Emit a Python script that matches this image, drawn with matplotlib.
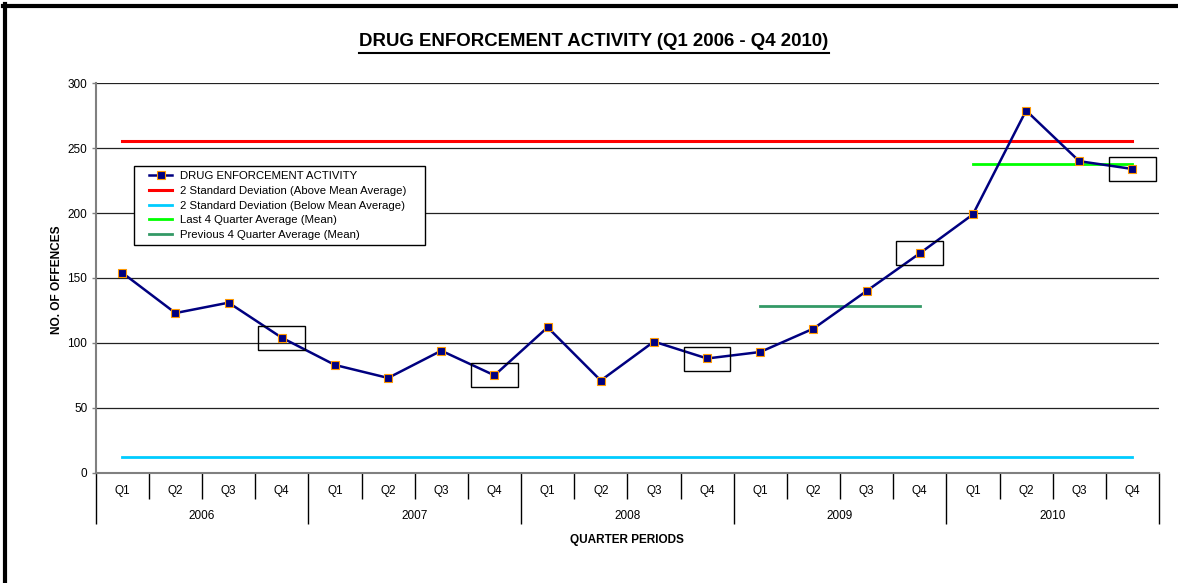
# Drug enforcement activity by quarter, Q1 2006 - Q4 2010

import matplotlib.pyplot as plt
import matplotlib.transforms as mtransforms
from matplotlib.lines import Line2D
from matplotlib.patches import Rectangle
from matplotlib.legend_handler import HandlerLine2D
import numpy as np

plt.rcParams['font.family'] = ['Liberation Sans', 'DejaVu Sans']

# data
years = ['2006', '2007', '2008', '2009', '2010']
quarters = ['Q1', 'Q2', 'Q3', 'Q4']
offences = [154, 123, 131, 104,
            83, 73, 94, 75,
            112, 71, 101, 88,
            93, 111, 140, 169,
            199, 279, 240, 234]
upper_2sd = 255.6
lower_2sd = 11.8
last4_mean = 238.0
prev4_mean = 128.25
boxed = [3, 7, 11, 15, 19]   # quarters marked with a box

W, H = 1178, 583
fig = plt.figure(figsize=(W / 100, H / 100), dpi=100)
ax = fig.add_axes([95.7 / W, 1 - 472.7 / H, (1159 - 95.7) / W, (472.7 - 83.3) / H])

n = len(offences)
x = np.arange(n)

# reference lines
ax.plot([0, n - 1], [upper_2sd] * 2, color='#FF0000', lw=2.2,
        label='2 Standard Deviation (Above Mean Average)')
ax.plot([0, n - 1], [lower_2sd] * 2, color='#00CCFF', lw=2.0,
        label='2 Standard Deviation (Below Mean Average)')
ax.plot([n - 4, n - 1], [last4_mean] * 2, color='#00FF00', lw=2.0,
        label='Last 4 Quarter Average (Mean)')
ax.plot([n - 8, n - 5], [prev4_mean] * 2, color='#339966', lw=2.0,
        label='Previous 4 Quarter Average (Mean)')

# main series
main, = ax.plot(x, offences, color='#000080', lw=1.8, marker='s', markersize=5.5,
                markerfacecolor='#000080', markeredgecolor='#FF9900',
                markeredgewidth=0.8, label='DRUG ENFORCEMENT ACTIVITY', zorder=5)

for i in boxed:
    ax.add_patch(Rectangle((i - 0.44, offences[i] - 9.3), 0.88, 18.5,
                           fill=False, edgecolor='black', lw=1.0, zorder=6))

ax.set_xlim(-0.5, n - 0.5)
ax.set_ylim(0, 300)
ax.set_yticks(range(0, 301, 50))
ax.grid(axis='y', color='#222222', lw=0.9)
ax.set_axisbelow(True)

for s in ['top', 'right']:
    ax.spines[s].set_visible(False)
ax.spines['left'].set_color('#808080')
ax.spines['left'].set_linewidth(1.5)
ax.spines['bottom'].set_color('#808080')
ax.spines['bottom'].set_linewidth(1.5)

ax.tick_params(axis='y', length=3, width=1, color='#808080', labelsize=8.5, pad=3)

# two-level category axis
ax.set_xticks(np.arange(-0.5, n, 4))
ax.set_xticks(np.arange(-0.5, n, 1), minor=True)
ax.tick_params(axis='x', which='major', length=36.5, width=1, color='black', labelbottom=False)
ax.tick_params(axis='x', which='minor', length=19, width=1, color='black', labelbottom=False)

trans = mtransforms.blended_transform_factory(ax.transData, ax.transAxes)
for i in range(n):
    ax.text(i, -0.046, quarters[i % 4], transform=trans, ha='center', va='center', fontsize=8.5)
for k, yr in enumerate(years):
    ax.text(4 * k + 1.5, -0.111, yr, transform=trans, ha='center', va='center', fontsize=8.5)

ax.text(0.5, -0.173, 'QUARTER PERIODS', transform=ax.transAxes, ha='center', va='center',
        fontsize=8.5, fontweight='bold')
fig.text(57 / W, 1 - 280 / H, 'NO. OF OFFENCES', rotation=90, ha='center', va='center',
         fontsize=8.6, fontweight='bold')

# title with underline
title = fig.text(594 / W, 1 - 42 / H, 'DRUG ENFORCEMENT ACTIVITY (Q1 2006 - Q4 2010)',
                 ha='center', va='center', fontsize=13.4, fontweight='bold')
fig.canvas.draw()
bb = title.get_window_extent()
uy = H - 52.5
fig.add_artist(Line2D([bb.x0 / W, bb.x1 / W], [uy / H, uy / H], color='black', lw=1.5,
                      transform=fig.transFigure))

handles = [main] + ax.get_lines()[:4]
leg = ax.legend(handles=handles, loc='upper left',
                bbox_to_anchor=(134 / W, 1 - 250 / H, 291 / W, 84 / H),
                bbox_transform=fig.transFigure, mode='expand', borderaxespad=0,
                fontsize=8.2, fancybox=False, framealpha=1, edgecolor='black',
                handlelength=2.9, handletextpad=0.7, labelspacing=0.42, borderpad=0.45,
                handler_map={Line2D: HandlerLine2D(xpad=0.9)})
leg.get_frame().set_linewidth(1.0)

# outer frame (top and left edges visible)
fig.add_artist(Line2D([3 / W, 1], [1 - 6 / H, 1 - 6 / H], color='black', lw=3,
                      transform=fig.transFigure))
fig.add_artist(Line2D([5.3 / W, 5.3 / W], [0, 1 - 4 / H], color='black', lw=3,
                      transform=fig.transFigure))

fig.savefig('out.png', dpi=100)
